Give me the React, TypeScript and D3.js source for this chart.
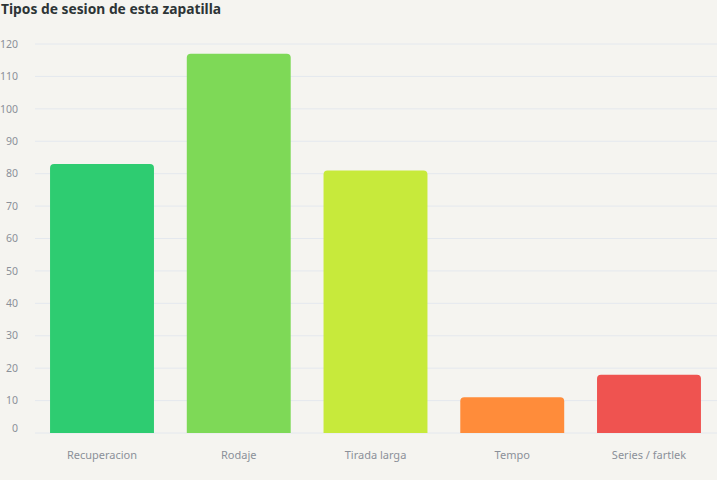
import React, { useEffect } from 'react'
import * as d3 from 'd3'

const categories = ['Recuperacion', 'Rodaje', 'Tirada larga', 'Tempo', 'Series / fartlek']
const sessions = [83, 117, 81, 11, 18]
const barColors = ['#2ecc71', '#7ed957', '#c7ea3b', '#ff8c3a', '#ef5350']
const yTicks = [0, 10, 20, 30, 40, 50, 60, 70, 80, 90, 100, 110, 120]

const W = 717
const H = 480
const left = 35
const right = 716
const top = 44
const bottom = 433
const radius = 4

// bar with only the top corners rounded
function topRoundedBar(x: number, y: number, w: number, h: number, r: number) {
  const rr = Math.min(r, h, w / 2)
  return `M${x},${y + h}V${y + rr}Q${x},${y} ${x + rr},${y}H${x + w - rr}Q${x + w},${y} ${x + w},${y + rr}V${y + h}Z`
}

export default function App() {
  useEffect(() => {
    document.body.style.margin = '0'
    document.body.style.background = '#f5f4f0'
  }, [])

  const x = d3.scaleBand<string>()
    .domain(categories)
    .range([left, right])
    .paddingInner(0.24)
    .paddingOuter(0.11)

  const y = d3.scaleLinear()
    .domain([0, 120])
    .range([bottom, top])

  const font = "'Source Sans Pro', 'Noto Sans', sans-serif"

  return (
    <svg width={W} height={H} style={{ display: 'block', background: '#f5f4f0' }}>
      <text x={1} y={14} fontFamily={font} fontWeight={700} fontSize={13.8} fill="#2d3436">
        Tipos de sesion de esta zapatilla
      </text>

      <g>
        {yTicks.map(t => (
          <g key={t}>
            <line x1={left} x2={W} y1={y(t)} y2={y(t)} stroke="#e4e8ee" strokeWidth={1} />
            <text x={18} y={t === 0 ? y(t) - 5 : y(t)} dy="0.35em" textAnchor="end"
              fontFamily={font} fontSize={10.5} fill="#8b9099">
              {t}
            </text>
          </g>
        ))}
      </g>

      <g>
        {categories.map((c, i) => (
          <path key={c}
            d={topRoundedBar(x(c)!, y(sessions[i]), x.bandwidth(), bottom - y(sessions[i]), radius)}
            fill={barColors[i]} />
        ))}
      </g>

      <g>
        {categories.map(c => (
          <text key={c} x={x(c)! + x.bandwidth() / 2} y={459} textAnchor="middle"
            fontFamily={font} fontSize={11} fill="#8b9099">
            {c}
          </text>
        ))}
      </g>
    </svg>
  )
}
